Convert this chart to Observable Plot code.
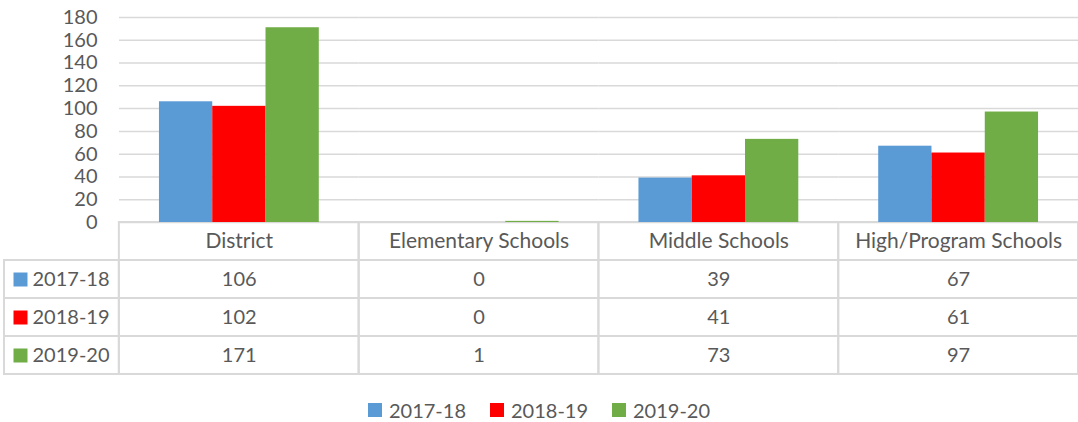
<!DOCTYPE html>
<html>
<head>
<meta charset="utf-8">
<script src="https://cdn.jsdelivr.net/npm/d3@7"></script>
<script src="https://cdn.jsdelivr.net/npm/@observablehq/plot@0.6"></script>
<style>
  html, body { margin: 0; padding: 0; background: white; overflow: hidden; }
  body { width: 1078px; height: 422px; font-family: Lato, sans-serif; color: #595959; }
  #chart { position: relative; z-index: 2; }
  #chart svg { display: block; overflow: visible; }
  #table { margin-top: -2px; position: relative; z-index: 1; }
  #table svg { display: block; }
  #legend { display: flex; justify-content: center; align-items: center; margin-top: 25px; height: 20px; font-size: 20px; }
  #legend .item { display: flex; align-items: center; margin: 0 12px; }
  #legend .sw { width: 14px; height: 14px; margin-right: 7px; }
</style>
</head>
<body>
<div id="chart"></div>
<div id="table"></div>
<div id="legend"></div>
<script>
const categories = ["District", "Elementary Schools", "Middle Schools", "High/Program Schools"];
const seriesNames = ["2017-18", "2018-19", "2019-20"];
const values2017 = [106, 0, 39, 67];
const values2018 = [102, 0, 41, 61];
const values2019 = [171, 1, 73, 97];
const seriesColors = ["#5b9bd5", "#ff0000", "#70ad47"];
const yTicks = [0, 20, 40, 60, 80, 100, 120, 140, 160, 180];

const seriesValues = [values2017, values2018, values2019];
const data = seriesNames.flatMap((s, si) =>
  categories.map((c, ci) => ({series: s, category: c, value: seriesValues[si][ci], col: ci}))
);

const textColor = "#595959";
const gridColor = "#d9d9d9";

const chart = Plot.plot({
  width: 1078,
  height: 223,
  marginTop: 17,
  marginBottom: 1,
  marginLeft: 119,
  marginRight: 0,
  style: {fontFamily: "Lato, sans-serif", fontSize: "20px", color: textColor, background: "transparent", overflow: "visible"},
  fx: {domain: categories, padding: 0, round: false, axis: null, label: null},
  x: {domain: seriesNames, paddingInner: 0, paddingOuter: 0.75, round: false, axis: null},
  y: {domain: [0, 180], ticks: yTicks, tickSize: 0, tickPadding: 22, label: null, tickFormat: d => String(d)},
  color: {domain: seriesNames, range: seriesColors},
  marks: [
    Plot.ruleY(yTicks, {stroke: gridColor, strokeWidth: 1.5}),
    Plot.barY(data, {fx: "category", x: "series", y: "value", fill: "series"})
  ]
});
document.getElementById("chart").appendChild(chart);

// Data table below the chart
const LABEL_COL = 0.479; // width of the row-label column, in category-column units
const headerCells = categories.map((c, i) => ({row: "head", x1: i, x2: i + 1, label: c}));
const labelCells = seriesNames.map(s => ({row: s, x1: -LABEL_COL, x2: 0, label: s}));
const valueCells = data.map(d => ({row: d.series, x1: d.col, x2: d.col + 1, label: String(d.value)}));
const allCells = [...headerCells, ...labelCells, ...valueCells];

const table = Plot.plot({
  width: 1078,
  height: 154,
  marginTop: 1,
  marginBottom: 1,
  marginLeft: 4,
  marginRight: 0,
  style: {fontFamily: "Lato, sans-serif", fontSize: "20px", color: textColor, background: "transparent"},
  x: {domain: [-LABEL_COL, 4], axis: null},
  y: {domain: ["head", ...seriesNames], padding: 0, round: false, axis: null},
  color: {domain: seriesNames, range: seriesColors},
  marks: [
    Plot.barX(allCells, {x1: "x1", x2: "x2", y: "row", fill: "none", stroke: gridColor, strokeWidth: 2}),
    Plot.text(headerCells, {x: d => (d.x1 + d.x2) / 2, y: "row", text: "label", fontSize: 21}),
    Plot.text(valueCells, {x: d => (d.x1 + d.x2) / 2, y: "row", text: "label"}),
    Plot.dot(labelCells, {x: "x1", y: "row", dx: 16, symbol: "square", r: 7.9, fill: "row", stroke: "none"}),
    Plot.text(labelCells, {x: "x1", y: "row", dx: 28, textAnchor: "start", text: "label"})
  ]
});
document.getElementById("table").appendChild(table);

// Legend
const legend = document.getElementById("legend");
seriesNames.forEach((s, i) => {
  const item = document.createElement("div");
  item.className = "item";
  const sw = document.createElement("div");
  sw.className = "sw";
  sw.style.background = seriesColors[i];
  const label = document.createElement("span");
  label.textContent = s;
  item.appendChild(sw);
  item.appendChild(label);
  legend.appendChild(item);
});
</script>
</body>
</html>
